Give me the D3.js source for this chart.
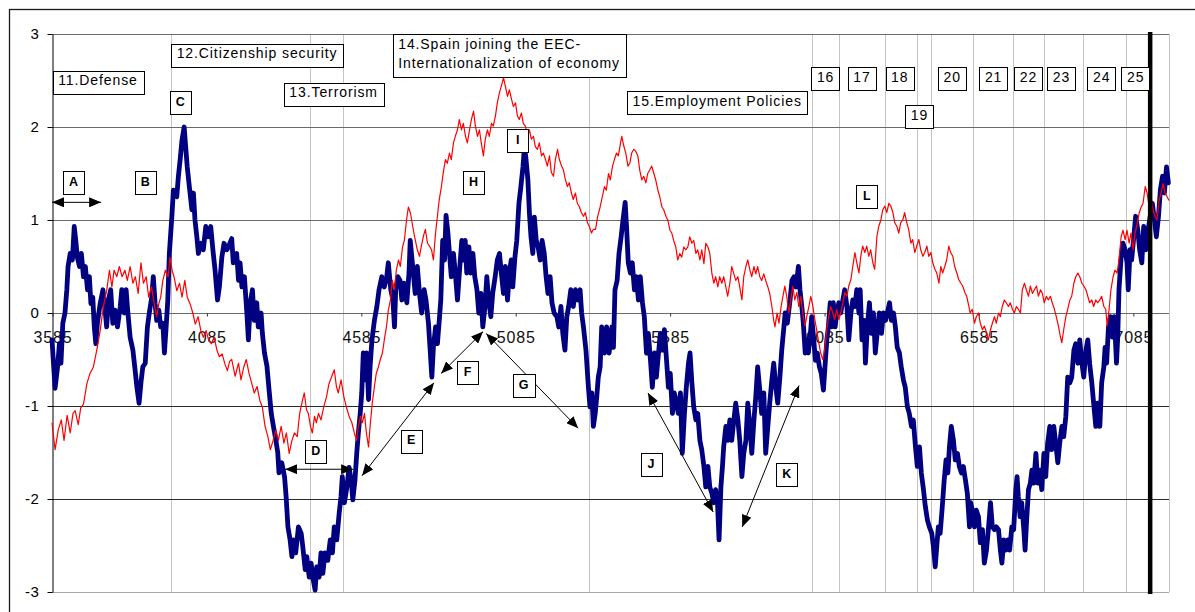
<!DOCTYPE html>
<html>
<head>
<meta charset="utf-8">
<script src="https://cdn.jsdelivr.net/npm/d3@7"></script>
<style>
  html, body { margin: 0; padding: 0; background: #ffffff; }
  svg { display: block; font-family: "Liberation Sans", Arial, sans-serif; }
</style>
</head>
<body>
<svg id="chart" width="1195" height="612"></svg>
<script>
// ---------- data ----------
const xTicks = [3585, 4085, 4585, 5085, 5585, 6085, 6585, 7085];
const yTicks = [-3, -2, -1, 0, 1, 2, 3];
const periodRange = [3585, 7202];

// periods at which an event line is drawn (events 11-25)
const eventPeriods = [3971, 4421, 4528, 5324, 6046, 6134, 6283, 6386, 6432, 6568, 6697, 6798, 6924, 7063, 7202];
const cutoffPeriod = 7141;

// standardized index (thick navy series)
const blueSeries = [
[3585,-0.29],[3595,-0.81],[3603,-0.58],[3609,-0.33],[3614,-0.54],[3620,-0.11],[3627,0],[3633,0.25],[3637,0.5],[3644,0.64],
[3651,0.57],[3657,0.93],[3662,0.78],[3667,0.6],[3674,0.5],[3680,0.64],[3687,0.39],[3693,0.5],[3700,0.25],[3706,0.39],
[3711,0.1],[3717,0.17],[3722,-0.15],[3727,-0.33],[3732,-0.11],[3741,0.1],[3750,0.25],[3757,0.03],[3762,-0.15],[3768,0.14],
[3775,0.25],[3782,-0.11],[3789,0.03],[3797,-0.15],[3806,0.07],[3811,0.25],[3819,0],[3825,0.25],[3830,0.03],[3838,-0.26],
[3847,-0.4],[3854,-0.61],[3860,-0.8],[3867,-0.97],[3873,-0.75],[3879,-0.58],[3887,-0.54],[3894,-0.15],[3900,0],[3908,0.17],
[3913,0.39],[3919,0.1],[3924,-0.08],[3931,0.03],[3937,-0.15],[3944,-0.11],[3949,-0.43],[3954,-0.18],[3960,0.14],[3965,0.64],
[3973,1.03],[3978,1.32],[3989,1.25],[3994,1.46],[4000,1.65],[4006,1.86],[4013,2.0],[4018,1.78],[4023,1.57],[4030,1.35],
[4038,1.11],[4043,1.29],[4048,1.0],[4054,0.82],[4059,0.64],[4067,0.75],[4075,0.68],[4083,0.93],[4091,0.82],[4099,0.93],
[4106,0.68],[4113,0.46],[4121,0.14],[4127,0.28],[4135,0.6],[4142,0.75],[4151,0.68],[4156,0.71],[4167,0.8],[4172,0.54],
[4183,0.64],[4189,0.35],[4194,0.54],[4200,0.28],[4208,0.39],[4216,0],[4221,-0.29],[4227,0.11],[4234,0.25],[4240,-0.08],
[4248,0.11],[4253,-0.15],[4262,0],[4266,-0.21],[4273,-0.43],[4281,-0.57],[4288,-0.83],[4295,-1.08],[4302,-1.22],[4310,-1.37],
[4316,-1.5],[4320,-1.72],[4329,-1.61],[4338,-1.76],[4343,-1.97],[4349,-2.3],[4356,-2.44],[4362,-2.62],[4367,-2.44],[4374,-2.58],
[4383,-2.3],[4392,-2.37],[4397,-2.51],[4405,-2.76],[4410,-2.62],[4418,-2.84],[4424,-2.69],[4431,-2.87],[4437,-2.98],[4442,-2.73],
[4450,-2.84],[4456,-2.58],[4462,-2.8],[4469,-2.58],[4478,-2.66],[4486,-2.44],[4493,-2.58],[4499,-2.3],[4507,-2.44],[4515,-2.15],
[4521,-1.97],[4525,-1.76],[4532,-2.04],[4540,-1.87],[4547,-1.66],[4554,-1.8],[4559,-2.01],[4566,-1.8],[4572,-1.5],[4577,-1.29],
[4583,-1.08],[4588,-0.86],[4593,-0.43],[4599,-0.72],[4604,-0.43],[4610,-0.93],[4615,-0.58],[4621,-0.29],[4629,-0.08],[4637,0.07],
[4644,0.25],[4653,0.39],[4661,0.28],[4669,0.39],[4674,0.54],[4682,0.25],[4689,0.14],[4694,-0.15],[4698,0.25],[4705,0.39],
[4712,0.35],[4718,0.14],[4725,0.32],[4734,0.11],[4741,0.43],[4745,0.78],[4753,0.5],[4761,0.21],[4768,0.5],[4775,0.21],
[4782,0],[4790,0.25],[4796,0.14],[4804,-0.11],[4809,-0.37],[4815,-0.69],[4820,-0.37],[4827,-0.15],[4833,-0.33],[4839,-0.08],
[4844,0.14],[4850,0.78],[4856,0.57],[4861,1.05],[4867,0.86],[4872,0.64],[4878,0.39],[4885,0.64],[4891,0.43],[4898,0.14],
[4904,0.43],[4912,0.78],[4917,0.57],[4923,0.78],[4928,0.43],[4935,0.71],[4941,0.43],[4948,0.64],[4954,0.39],[4961,0.25],
[4967,0],[4974,0.21],[4980,-0.15],[4987,0.07],[4993,0.39],[4999,0.14],[5006,-0.04],[5012,0.21],[5020,0.39],[5027,0.57],
[5034,0.64],[5040,0.43],[5047,0.21],[5053,0.5],[5060,0.14],[5066,0.43],[5072,0.57],[5077,0.28],[5084,0.6],[5090,0.78],
[5097,1.18],[5103,1.35],[5110,1.57],[5115,1.79],[5120,1.65],[5126,1.43],[5131,1.07],[5136,0.82],[5142,0.64],[5147,1.03],
[5153,0.78],[5159,0.71],[5166,0.57],[5172,0.78],[5179,0.64],[5185,0.39],[5191,0.21],[5198,0.39],[5204,0.11],[5211,0],
[5220,-0.04],[5226,-0.15],[5233,0.07],[5239,-0.22],[5246,-0.4],[5252,-0.04],[5258,0.07],[5265,0.25],[5273,0.07],[5280,0.25],
[5288,0.14],[5295,0.25],[5300,0],[5306,-0.15],[5314,-0.4],[5322,-0.8],[5327,-1.01],[5333,-0.86],[5338,-1.22],[5344,-1.08],
[5349,-0.9],[5354,-0.69],[5360,-0.58],[5365,-0.15],[5374,-0.43],[5381,-0.15],[5389,-0.43],[5398,-0.15],[5403,-0.37],[5408,0.25],
[5415,0.35],[5421,0.64],[5428,0.82],[5434,1.0],[5441,1.19],[5446,0.89],[5451,0.54],[5458,0.43],[5464,0.54],[5471,0.25],
[5477,0.39],[5484,0.14],[5490,0.39],[5497,0.11],[5503,-0.04],[5510,-0.43],[5516,-0.22],[5523,-0.51],[5529,-0.8],[5536,-0.43],
[5542,-0.69],[5549,-0.43],[5555,-0.22],[5562,-0.4],[5568,-0.18],[5575,-0.51],[5581,-0.8],[5587,-0.65],[5594,-1.08],[5600,-0.86],
[5607,-0.97],[5613,-1.08],[5620,-0.86],[5626,-1.51],[5633,-1.08],[5639,-0.8],[5646,-0.54],[5651,-0.43],[5657,-0.75],[5663,-1.01],
[5670,-1.15],[5676,-1.08],[5683,-1.37],[5689,-1.47],[5696,-1.65],[5702,-1.87],[5709,-1.65],[5715,-1.87],[5722,-1.94],[5728,-2.04],
[5734,-1.9],[5740,-2.04],[5745,-2.44],[5751,-1.87],[5756,-1.65],[5760,-1.44],[5767,-1.22],[5773,-1.37],[5780,-1.15],[5786,-1.37],
[5793,-1.15],[5799,-0.97],[5806,-1.15],[5812,-1.37],[5819,-1.76],[5825,-1.51],[5832,-1.37],[5838,-0.97],[5845,-1.22],[5851,-1.51],
[5858,-1.15],[5864,-0.9],[5870,-0.58],[5877,-0.83],[5883,-1.08],[5890,-0.86],[5896,-1.51],[5903,-1.22],[5909,-0.97],[5916,-0.72],
[5922,-0.54],[5929,-0.8],[5935,-0.97],[5942,-0.69],[5948,-0.4],[5955,-0.15],[5959,0],[5966,-0.11],[5975,0.14],[5981,0.35],
[5988,0.39],[5994,0.28],[6002,0.5],[6007,0.25],[6013,0.07],[6018,-0.11],[6024,-0.43],[6029,-0.29],[6034,-0.43],[6040,-0.26],
[6045,-0.04],[6051,-0.26],[6057,-0.51],[6063,-0.43],[6070,-0.58],[6076,-0.65],[6083,-0.83],[6088,-0.58],[6094,-0.29],[6099,-0.15],
[6105,0.11],[6110,-0.15],[6115,0.11],[6121,-0.15],[6126,0],[6133,0.11],[6139,0],[6146,0.14],[6152,0.25],[6159,0.07],
[6165,-0.29],[6172,0],[6178,0.14],[6185,0.07],[6191,0.25],[6198,0],[6202,0.25],[6208,-0.29],[6215,-0.08],[6219,-0.54],
[6225,-0.15],[6232,0.11],[6238,-0.22],[6245,0],[6251,-0.43],[6258,-0.18],[6264,0],[6271,-0.22],[6277,0],[6284,-0.08],
[6290,0],[6297,0.11],[6303,-0.08],[6310,0],[6316,-0.15],[6322,-0.37],[6329,-0.43],[6335,-0.58],[6342,-0.72],[6348,-0.8],
[6355,-1.01],[6361,-1.08],[6368,-1.22],[6374,-1.15],[6381,-1.44],[6387,-1.65],[6394,-1.44],[6400,-1.72],[6407,-1.9],[6413,-2.08],
[6420,-2.23],[6426,-2.3],[6434,-2.37],[6439,-2.51],[6445,-2.73],[6450,-2.51],[6455,-2.3],[6461,-2.37],[6467,-2.12],[6474,-1.8],
[6480,-1.58],[6486,-1.72],[6491,-1.44],[6497,-1.22],[6504,-1.37],[6510,-1.58],[6517,-1.51],[6523,-1.65],[6530,-1.72],[6536,-1.65],
[6543,-1.8],[6549,-1.94],[6556,-2.3],[6560,-2.04],[6565,-2.12],[6572,-2.3],[6578,-2.12],[6585,-2.19],[6591,-2.47],[6598,-2.33],
[6604,-2.69],[6611,-2.55],[6617,-2.33],[6624,-2.04],[6630,-2.3],[6637,-2.33],[6643,-2.3],[6650,-2.33],[6656,-2.55],[6661,-2.69],
[6667,-2.44],[6673,-2.55],[6680,-2.44],[6686,-2.55],[6693,-2.3],[6699,-2.33],[6706,-1.9],[6710,-1.76],[6714,-1.97],[6720,-2.19],
[6725,-2.04],[6732,-2.33],[6736,-2.55],[6741,-2.23],[6747,-1.9],[6753,-1.83],[6758,-1.69],[6764,-1.83],[6771,-1.51],[6777,-1.83],
[6784,-1.69],[6790,-1.9],[6797,-1.51],[6803,-1.76],[6809,-1.4],[6816,-1.22],[6822,-1.47],[6829,-1.22],[6835,-1.4],[6842,-1.61],
[6848,-1.4],[6855,-1.22],[6861,-1.33],[6868,-1.11],[6874,-0.69],[6881,-0.75],[6887,-0.69],[6894,-0.4],[6900,-0.33],[6907,-0.54],
[6913,-0.29],[6920,-0.54],[6926,-0.69],[6933,-0.4],[6939,-0.29],[6945,-0.54],[6952,-0.75],[6958,-0.97],[6965,-1.22],[6971,-0.97],
[6978,-1.22],[6984,-0.75],[6991,-0.58],[6995,-0.37],[7000,-0.54],[7006,-0.15],[7012,-0.04],[7019,-0.26],[7025,-0.04],[7032,-0.54],
[7036,-0.26],[7040,0.25],[7047,0.6],[7053,0.75],[7060,0.68],[7066,0.54],[7070,0.25],[7076,0.68],[7081,0.57],[7088,0.82],
[7094,1.04],[7101,0.89],[7107,0.68],[7114,0.54],[7120,0.93],[7127,0.68],[7133,0.86],[7141,1.04],[7148,1.18],[7155,1.0],
[7161,0.82],[7168,1.04],[7174,1.32],[7181,1.47],[7187,1.29],[7194,1.57],[7200,1.4]
];

// smoothed reference index (thin red series)
const redSeries = [
[3585,-1.18],[3595,-1.47],[3605,-1.26],[3615,-1.15],[3624,-1.37],[3634,-1.1],[3644,-1.29],[3653,-1.08],[3660,-1.05],[3670,-1.2],
[3678,-1.02],[3687,-0.98],[3698,-0.76],[3708,-0.65],[3719,-0.58],[3730,-0.4],[3741,-0.19],[3751,0.06],[3762,0.24],[3771,0.46],
[3779,0.28],[3786,0.46],[3795,0.39],[3803,0.5],[3812,0.39],[3821,0.46],[3829,0.35],[3838,0.5],[3847,0.32],[3855,0.39],
[3864,0.21],[3873,0.54],[3881,0.32],[3890,0.39],[3898,0.17],[3907,0.28],[3916,0.1],[3924,-0.04],[3931,0.1],[3937,0.17],
[3944,0.35],[3952,0.46],[3961,0.39],[3967,0.6],[3974,0.46],[3980,0.39],[3989,0.24],[3998,0.32],[4006,0.17],[4015,0.35],
[4023,0.17],[4032,0.1],[4041,0],[4049,-0.12],[4058,-0.04],[4067,-0.19],[4075,-0.26],[4084,-0.19],[4093,-0.3],[4101,-0.33],
[4110,-0.26],[4119,-0.4],[4127,-0.47],[4136,-0.44],[4145,-0.55],[4153,-0.62],[4160,-0.52],[4167,-0.5],[4178,-0.68],[4189,-0.54],
[4197,-0.72],[4206,-0.58],[4214,-0.5],[4223,-0.65],[4232,-0.76],[4240,-0.86],[4249,-0.79],[4258,-0.94],[4266,-1.01],[4275,-1.22],
[4284,-1.33],[4292,-1.47],[4301,-1.37],[4310,-1.26],[4318,-1.37],[4327,-1.22],[4336,-1.4],[4344,-1.29],[4353,-1.51],[4362,-1.37],
[4370,-1.29],[4379,-1.33],[4387,-1.08],[4396,-0.94],[4402,-0.86],[4409,-1.04],[4415,-1.08],[4422,-1.22],[4428,-1.29],[4435,-1.11],
[4441,-1.18],[4448,-1.08],[4456,-1.15],[4465,-1.01],[4474,-0.9],[4482,-0.76],[4491,-0.68],[4499,-0.61],[4506,-0.79],[4512,-0.86],
[4521,-0.72],[4530,-0.9],[4538,-1.01],[4547,-1.11],[4556,-1.18],[4564,-1.29],[4571,-1.37],[4577,-1.22],[4584,-1.11],[4590,-1.18],
[4597,-1.08],[4603,-1.29],[4610,-1.44],[4616,-1.18],[4622,-0.97],[4629,-0.79],[4635,-0.65],[4642,-0.58],[4648,-0.5],[4655,-0.43],
[4661,-0.29],[4668,-0.15],[4674,0.03],[4681,0.14],[4687,0.35],[4694,0.25],[4700,0.46],[4707,0.57],[4713,0.5],[4720,0.71],
[4726,0.78],[4733,1.0],[4739,1.14],[4746,1.07],[4753,0.93],[4761,0.79],[4768,0.68],[4775,0.61],[4781,0.72],[4788,0.83],
[4794,0.9],[4801,0.75],[4807,0.72],[4814,0.68],[4820,0.57],[4827,0.86],[4833,1.04],[4839,1.22],[4846,1.36],[4852,1.51],
[4859,1.65],[4865,1.61],[4872,1.72],[4878,1.65],[4885,1.83],[4891,1.9],[4898,1.97],[4904,2.08],[4911,1.97],[4917,2.04],
[4924,1.9],[4930,1.83],[4937,1.97],[4943,2.08],[4950,2.17],[4956,2.01],[4963,1.9],[4969,1.97],[4975,1.83],[4982,1.69],
[4988,1.87],[4995,1.97],[5001,1.9],[5008,2.04],[5014,2.01],[5021,2.12],[5027,2.26],[5034,2.37],[5040,2.44],[5047,2.53],
[5053,2.44],[5060,2.33],[5066,2.4],[5073,2.3],[5079,2.22],[5086,2.26],[5092,2.12],[5098,2.08],[5105,2.15],[5111,2.04],
[5118,2.01],[5124,1.9],[5131,1.97],[5137,1.87],[5144,1.9],[5150,1.79],[5157,1.76],[5163,1.83],[5170,1.69],[5176,1.72],
[5183,1.65],[5189,1.58],[5196,1.69],[5202,1.51],[5209,1.47],[5215,1.65],[5222,1.76],[5228,1.65],[5235,1.58],[5241,1.54],
[5247,1.44],[5254,1.36],[5260,1.4],[5267,1.29],[5273,1.22],[5280,1.29],[5286,1.18],[5293,1.14],[5299,1.08],[5306,1.04],
[5312,1.08],[5319,0.97],[5325,0.93],[5332,0.86],[5338,0.9],[5345,0.9],[5352,1.04],[5360,1.14],[5367,1.25],[5374,1.36],
[5380,1.32],[5387,1.5],[5393,1.43],[5400,1.58],[5406,1.65],[5413,1.72],[5419,1.69],[5426,1.83],[5430,1.9],[5437,1.79],
[5443,1.72],[5450,1.58],[5456,1.61],[5462,1.72],[5469,1.76],[5475,1.74],[5482,1.69],[5488,1.54],[5495,1.43],[5501,1.47],
[5508,1.4],[5514,1.5],[5521,1.54],[5527,1.58],[5534,1.5],[5540,1.43],[5547,1.32],[5553,1.25],[5560,1.14],[5566,1.11],
[5573,1.04],[5579,1.0],[5586,0.89],[5592,0.86],[5598,0.78],[5605,0.71],[5611,0.57],[5618,0.64],[5624,0.6],[5631,0.71],
[5637,0.68],[5644,0.71],[5650,0.82],[5657,0.75],[5663,0.78],[5670,0.64],[5676,0.68],[5683,0.57],[5689,0.68],[5696,0.53],
[5702,0.75],[5709,0.71],[5715,0.64],[5722,0.42],[5728,0.32],[5734,0.39],[5741,0.28],[5747,0.39],[5754,0.32],[5760,0.39],
[5767,0.28],[5773,0.18],[5780,0.32],[5786,0.5],[5793,0.42],[5799,0.35],[5806,0.39],[5812,0.28],[5819,0.14],[5825,0.39],
[5832,0.5],[5838,0.57],[5845,0.46],[5851,0.39],[5858,0.5],[5864,0.42],[5870,0.5],[5877,0.39],[5883,0.35],[5890,0.42],
[5896,0.35],[5903,0.28],[5909,0.21],[5916,0.07],[5922,-0.08],[5926,-0.15],[5933,0],[5939,-0.11],[5946,0.07],[5953,0.2],
[5958,0.29],[5964,0.18],[5971,0],[5977,0.14],[5984,0.29],[5990,0.14],[5997,0.22],[6003,0.07],[6010,0.18],[6016,0],
[6023,-0.14],[6029,-0.04],[6036,0.07],[6042,0.18],[6049,0.07],[6055,-0.07],[6061,-0.18],[6068,-0.32],[6074,-0.43],[6081,-0.5],
[6087,-0.39],[6094,-0.18],[6100,-0.04],[6107,0.07],[6113,0],[6120,-0.07],[6126,0.04],[6133,-0.07],[6139,0],[6146,0.11],
[6152,0.22],[6159,0.18],[6165,0.29],[6172,0.36],[6178,0.5],[6185,0.65],[6191,0.54],[6198,0.43],[6204,0.61],[6210,0.72],
[6217,0.65],[6223,0.72],[6230,0.61],[6236,0.68],[6243,0.54],[6249,0.47],[6256,0.82],[6262,0.93],[6269,1.0],[6275,1.11],
[6282,1.15],[6288,1.08],[6295,1.18],[6301,1.15],[6308,1.08],[6314,0.97],[6321,0.93],[6327,0.86],[6333,0.97],[6340,1.0],
[6346,1.08],[6353,0.97],[6359,0.9],[6366,0.75],[6372,0.79],[6379,0.65],[6385,0.72],[6392,0.79],[6398,0.68],[6405,0.61],
[6411,0.65],[6418,0.72],[6424,0.61],[6431,0.65],[6437,0.54],[6444,0.47],[6450,0.43],[6457,0.32],[6463,0.5],[6469,0.43],
[6476,0.5],[6482,0.57],[6489,0.72],[6495,0.65],[6502,0.61],[6508,0.5],[6515,0.43],[6521,0.36],[6528,0.32],[6534,0.29],
[6541,0.22],[6547,0.18],[6554,0.07],[6558,0],[6565,0.04],[6572,-0.11],[6578,-0.04],[6585,0],[6591,-0.11],[6598,-0.18],
[6604,-0.14],[6611,-0.21],[6617,-0.29],[6624,-0.18],[6630,-0.11],[6637,-0.04],[6643,-0.11],[6650,0],[6656,-0.04],[6662,0.07],
[6669,0.14],[6675,0.11],[6682,0.07],[6688,0.11],[6695,0.04],[6701,0],[6708,0.07],[6714,0.04],[6721,0],[6727,0.25],
[6734,0.32],[6740,0.25],[6747,0.18],[6753,0.29],[6760,0.21],[6766,0.25],[6773,0.29],[6779,0.18],[6786,0.25],[6792,0.21],
[6798,0.11],[6805,0.18],[6811,0.14],[6818,0.18],[6824,0.11],[6831,0.04],[6837,-0.04],[6844,-0.14],[6850,-0.25],[6855,-0.32],
[6861,-0.18],[6868,-0.04],[6874,0.04],[6881,0.14],[6887,0.18],[6894,0.32],[6900,0.39],[6907,0.43],[6913,0.39],[6920,0.32],
[6926,0.29],[6933,0.25],[6939,0.18],[6945,0.11],[6952,0.14],[6958,0.07],[6965,0.14],[6971,0.11],[6978,0.14],[6984,0.18],
[6991,0.07],[6997,0.04],[7002,-0.14],[7008,0.04],[7014,0.25],[7021,0.39],[7027,0.46],[7034,0.43],[7040,0.57],[7047,0.82],
[7053,0.89],[7060,0.79],[7066,0.89],[7073,0.75],[7079,0.86],[7086,0.68],[7092,0.86],[7099,0.96],[7105,1.07],[7112,1.14],
[7118,1.18],[7125,1.36],[7131,1.29],[7138,1.14],[7144,1.25],[7150,1.11],[7157,1.04],[7163,1.0],[7170,1.21],[7176,1.29],
[7183,1.39],[7189,1.29],[7196,1.25],[7202,1.21]
];

// event captions (numbered periods) and phase letters
const eventCaptions = [
  {lines: ["11.Defense"], at: [3734, 2.48]},
  {lines: ["12.Citizenship security"], at: [4249, 2.77]},
  {lines: ["13.Terrorism"], at: [4497, 2.35]},
  {lines: ["14.Spain joining the EEC-", "Internationalization of economy"], at: [5065, 2.77]},
  {lines: ["15.Employment Policies"], at: [5739, 2.26]},
  {lines: ["16"], at: [6090, 2.52]},
  {lines: ["17"], at: [6208, 2.52]},
  {lines: ["18"], at: [6330, 2.52]},
  {lines: ["19"], at: [6394, 2.11]},
  {lines: ["20"], at: [6500, 2.52]},
  {lines: ["21"], at: [6634, 2.52]},
  {lines: ["22"], at: [6747, 2.52]},
  {lines: ["23"], at: [6854, 2.52]},
  {lines: ["24"], at: [6984, 2.52]},
  {lines: ["25"], at: [7094, 2.52]}
];
const phaseLetters = [
  {label: "A", at: [3655, 1.4]},
  {label: "B", at: [3887, 1.4]},
  {label: "C", at: [4000, 2.26]},
  {label: "D", at: [4439, -1.49]},
  {label: "E", at: [4748, -1.38]},
  {label: "F", at: [4931, -0.64]},
  {label: "G", at: [5112, -0.78]},
  {label: "H", at: [4950, 1.4]},
  {label: "I", at: [5093, 1.85]},
  {label: "J", at: [5525, -1.63]},
  {label: "K", at: [5964, -1.74]},
  {label: "L", at: [6224, 1.25]}
];
// double-headed span arrows: [period, value] -> [period, value]
const spanArrows = [
  [[3585, 1.19], [3744, 1.19]],
  [[4340, -1.68], [4560, -1.68]],
  [[4589, -1.75], [4822, -0.75]],
  [[4845, -0.65], [4981, -0.2]],
  [[4991, -0.22], [5289, -1.24]],
  [[5515, -0.86], [5726, -2.14]],
  [[5820, -2.3], [6004, -0.78]]
];

// ---------- layout ----------
const W = 1195, H = 612;
const plot = {left: 52, right: 1169, top: 34, bottom: 592};
const FONT = '"Liberation Sans", Arial, sans-serif';

const svg = d3.select("#chart");
const x = d3.scaleLinear().domain(periodRange).range([plot.left, plot.right]);
const y = d3.scaleLinear().domain([-3, 3]).range([plot.bottom, plot.top]);
const px = v => Math.round(v) + 0.5;

// outer frame
svg.append("rect")
  .attr("x", 9.5).attr("y", 9.5).attr("width", W + 20).attr("height", H + 20)
  .attr("fill", "none").attr("stroke", "#1a1a1a").attr("stroke-width", 1.3);

// event lines
svg.append("g").selectAll("line").data(eventPeriods).join("line")
  .attr("x1", d => px(x(d))).attr("x2", d => px(x(d)))
  .attr("y1", y(3)).attr("y2", y(-3))
  .attr("stroke", "#c4c4c4").attr("stroke-width", 1);

// horizontal gridlines
svg.append("g").selectAll("line").data(yTicks).join("line")
  .attr("x1", plot.left).attr("x2", plot.right)
  .attr("y1", d => px(y(d))).attr("y2", d => px(y(d)))
  .attr("stroke", d => d === -3 ? "#a8a8a8" : (d < 0 ? "#2a2a2a" : "#6a6a6a"))
  .attr("stroke-width", 1);

// left axis
const yAxis = svg.append("g")
  .attr("transform", `translate(${plot.left + 0.5},0)`)
  .call(d3.axisLeft(y).tickValues(yTicks).tickSize(5).tickSizeOuter(0).tickPadding(8)
        .tickFormat(d => String(d)));
yAxis.select(".domain").attr("stroke", "#000");
yAxis.selectAll(".tick line").attr("stroke", "#000");
yAxis.selectAll("text").attr("font-family", FONT).attr("font-size", 15)
  .attr("letter-spacing", 0.6).attr("fill", "#000");

// category axis crossing at zero
const xAxis = svg.append("g")
  .attr("transform", `translate(0.5,${px(y(0))})`)
  .call(d3.axisBottom(x).tickValues(xTicks).tickSize(3).tickSizeOuter(0).tickPadding(15)
        .tickFormat(d => String(d)));
xAxis.select(".domain").remove();
xAxis.selectAll(".tick line").attr("stroke", "#333");
xAxis.selectAll("text").attr("font-family", FONT).attr("font-size", 16)
  .attr("letter-spacing", 0.8).attr("fill", "#111");

// series
const line = d3.line().x(d => x(d[0])).y(d => y(d[1]));
svg.append("path").datum(blueSeries)
  .attr("d", line).attr("fill", "none")
  .attr("stroke", "#000080").attr("stroke-width", 4.8)
  .attr("stroke-linejoin", "round").attr("stroke-linecap", "round");
svg.append("path").datum(redSeries)
  .attr("d", line).attr("fill", "none")
  .attr("stroke", "#ff0000").attr("stroke-width", 1.2)
  .attr("stroke-linejoin", "round");

// cut-off marker
svg.append("line")
  .attr("x1", x(cutoffPeriod)).attr("x2", x(cutoffPeriod))
  .attr("y1", plot.top - 2).attr("y2", plot.bottom + 2)
  .attr("stroke", "#000").attr("stroke-width", 4.5);

// arrowheads
const defs = svg.append("defs");
defs.append("marker")
  .attr("id", "head").attr("viewBox", "0 -5 12 10")
  .attr("refX", 12).attr("refY", 0)
  .attr("markerWidth", 12).attr("markerHeight", 10)
  .attr("markerUnits", "userSpaceOnUse")
  .attr("orient", "auto-start-reverse")
  .append("path").attr("d", "M0,-5L12,0L0,5Z").attr("fill", "#000");

svg.append("g").selectAll("line").data(spanArrows).join("line")
  .attr("x1", d => x(d[0][0])).attr("y1", d => y(d[0][1]))
  .attr("x2", d => x(d[1][0])).attr("y2", d => y(d[1][1]))
  .attr("stroke", "#000").attr("stroke-width", 1)
  .attr("marker-start", "url(#head)").attr("marker-end", "url(#head)");

// boxed labels
const notes = svg.append("g");
function boxedLabel(lines, at, opt) {
  const cx = x(at[0]), cy = y(at[1]);
  const lineGap = 19.5;
  const h = 23 + lineGap * (lines.length - 1);
  const top = cy - h / 2;
  const g = notes.append("g");
  const t = g.append("text")
    .attr("font-family", FONT)
    .attr("font-size", opt.size)
    .attr("font-weight", opt.bold ? "bold" : "normal")
    .attr("letter-spacing", opt.spacing)
    .attr("fill", "#000");
  lines.forEach((s, i) => {
    t.append("tspan").attr("x", 0).attr("y", top + 14.5 + i * lineGap).text(s);
  });
  const w = t.node().getBBox().width;
  const boxW = Math.max(w + opt.pad * 2, opt.minW || 0);
  const left = cx - boxW / 2;
  t.selectAll("tspan").attr("x", left + opt.pad + (opt.center ? (boxW - 2 * opt.pad - w) / 2 : 0));
  g.insert("rect", "text")
    .attr("x", Math.round(left) + 0.5).attr("y", Math.round(top) + 0.5)
    .attr("width", Math.round(boxW)).attr("height", Math.round(h))
    .attr("fill", "#fff").attr("stroke", "#000").attr("stroke-width", 1);
}
eventCaptions.forEach(c => boxedLabel(c.lines, c.at, {size: 14, spacing: 0.9, pad: 5.5}));
phaseLetters.forEach(p => boxedLabel([p.label], p.at, {size: 12.5, bold: true, spacing: 0, pad: 6, minW: 21, center: true}));
</script>
</body>
</html>
